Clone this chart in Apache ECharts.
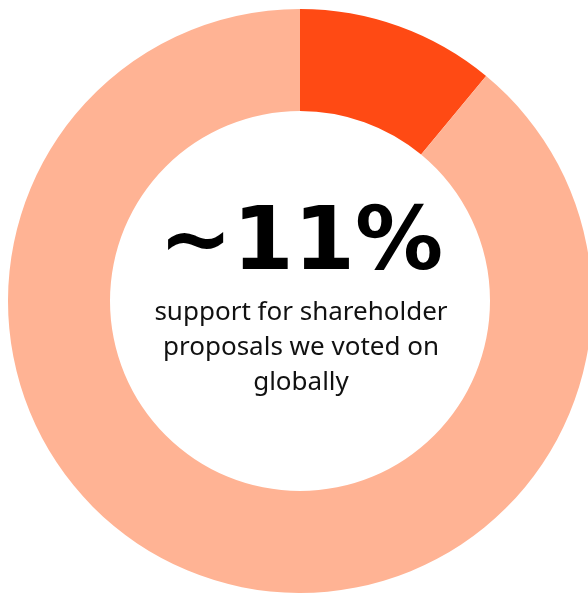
<!DOCTYPE html>
<html>
<head>
<meta charset="utf-8">
<style>
  html, body { margin: 0; padding: 0; background: #ffffff; }
  #chart { width: 588px; height: 593px; }
</style>
<script src="https://cdn.jsdelivr.net/npm/echarts@6/dist/echarts.min.js"></script>
</head>
<body>
<div id="chart"></div>
<script>
// Share of shareholder proposals supported vs. not supported (percent)
const categories = ['Supported', 'Not supported'];
const values = [11, 89];
const colors = ['#FF4A14', '#FFB394'];
const headline = '~11%';
const caption = ['support for shareholder', 'proposals we voted on', 'globally'];

const chart = echarts.init(document.getElementById('chart'), null, { renderer: 'canvas' });

chart.setOption({
  animation: false,
  backgroundColor: '#ffffff',
  series: [
    {
      type: 'pie',
      center: [300, 301],
      radius: [190, 292],
      startAngle: 90,
      clockwise: true,
      silent: true,
      z: 1,
      label: { show: false },
      labelLine: { show: false },
      data: categories.map((name, i) => ({
        name,
        value: values[i],
        itemStyle: { color: colors[i] }
      }))
    }
  ],
  graphic: [
    {
      type: 'text',
      z: 100,
      style: {
        x: 301,
        y: 246,
        text: headline,
        textAlign: 'center',
        textVerticalAlign: 'middle',
        font: 'bold 88px "DejaVu Sans"',
        fill: '#000000'
      }
    },
    {
      type: 'text',
      z: 100,
      style: {
        x: 301,
        y: 295,
        text: caption.join('\n'),
        textAlign: 'center',
        textVerticalAlign: 'top',
        font: '400 26px "Noto Sans"',
        lineHeight: 35,
        fill: '#111111'
      }
    }
  ]
});
</script>
</body>
</html>
